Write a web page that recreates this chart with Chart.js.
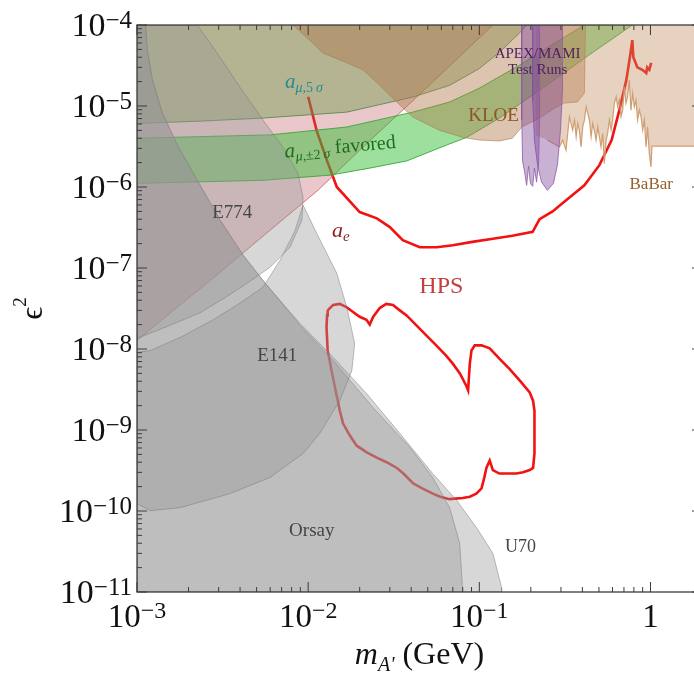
<!DOCTYPE html>
<html>
<head>
<meta charset="utf-8">
<script src="https://cdn.jsdelivr.net/npm/chart.js@4.4.1/dist/chart.umd.min.js"></script>
<style>
  html, body { margin: 0; padding: 0; overflow: hidden; background: #fff; }
  canvas { display: block; }
</style>
</head>
<body>
<canvas id="myChart" width="703" height="675"></canvas>
<script>
/* globals Chart:false */
// axis ranges and ticks
const xMin = 1e-3, xMax = 2
const yMin = 1e-11, yMax = 1e-4
const xTickValues = [1e-3, 1e-2, 1e-1, 1]
const xTickLabels = [['10', '\u22123'], ['10', '\u22122'], ['10', '\u22121'], ['1', '']]
const yTickValues = [1e-4, 1e-5, 1e-6, 1e-7, 1e-8, 1e-9, 1e-10, 1e-11]
const yTickLabels = [['10', '\u22124'], ['10', '\u22125'], ['10', '\u22126'], ['10', '\u22127'],
  ['10', '\u22128'], ['10', '\u22129'], ['10', '\u221210'], ['10', '\u221211']]

// [mass GeV, eps^2]
const hpsUpper = [[1.0e-2, 1.3e-5], [1.12e-2, 5.0e-6], [1.29e-2, 2.1e-6], [1.40e-2, 1.32e-6], [1.47e-2, 1.0e-6],
  [2.0e-2, 4.9e-7], [2.52e-2, 4.1e-7], [3.0e-2, 3.2e-7], [3.57e-2, 2.2e-7], [4.49e-2, 1.8e-7], [5.64e-2, 1.8e-7],
  [7.0e-2, 1.91e-7], [9.1e-2, 2.1e-7], [0.12, 2.3e-7], [0.156, 2.5e-7], [0.205, 2.8e-7], [0.225, 4.0e-7],
  [0.268, 5.0e-7], [0.306, 6.3e-7], [0.411, 1.05e-6], [0.503, 1.86e-6], [0.593, 3.8e-6], [0.658, 8.9e-6],
  [0.723, 2.1e-5], [0.762, 4.3e-5], [0.783, 6.5e-5], [0.794, 4.0e-5], [0.838, 3.0e-5], [0.896, 2.8e-5],
  [0.945, 2.55e-5], [0.957, 3.0e-5], [0.984, 2.8e-5], [1.01, 3.4e-5]]

const hpsLower = [[1.30e-2, 3.0e-8], [1.40e-2, 3.5e-8], [1.53e-2, 3.6e-8], [1.67e-2, 3.3e-8], [1.83e-2, 2.86e-8],
  [2.00e-2, 2.5e-8], [2.19e-2, 2.3e-8], [2.29e-2, 2.0e-8], [2.40e-2, 2.5e-8], [2.62e-2, 3.2e-8], [2.86e-2, 3.6e-8],
  [3.13e-2, 3.5e-8], [3.43e-2, 3.0e-8], [3.76e-2, 2.6e-8], [4.29e-2, 1.96e-8], [4.90e-2, 1.47e-8], [5.60e-2, 1.11e-8],
  [6.40e-2, 8.3e-9], [7.00e-2, 6.6e-9], [7.70e-2, 5.0e-9], [8.40e-2, 3.5e-9], [8.60e-2, 3.1e-9], [8.80e-2, 6.6e-9],
  [9.00e-2, 9.6e-9], [9.40e-2, 1.11e-8], [0.103, 1.11e-8], [0.115, 1.02e-8], [0.131, 7.6e-9], [0.150, 5.7e-9],
  [0.172, 4.1e-9], [0.197, 2.9e-9], [0.206, 2.3e-9], [0.210, 1.74e-9], [0.210, 5.1e-10], [0.206, 3.4e-10],
  [0.197, 3.2e-10], [0.180, 3.0e-10], [0.165, 2.9e-10], [0.131, 2.9e-10], [0.120, 3.2e-10], [0.115, 4.2e-10],
  [0.110, 3.4e-10], [0.107, 2.6e-10], [0.103, 1.9e-10], [9.6e-2, 1.64e-10], [8.8e-2, 1.5e-10], [8.0e-2, 1.45e-10],
  [6.7e-2, 1.4e-10], [5.9e-2, 1.5e-10], [5.35e-2, 1.64e-10], [4.67e-2, 1.89e-10], [4.1e-2, 2.2e-10], [3.6e-2, 2.9e-10],
  [3.3e-2, 3.4e-10], [2.87e-2, 4.0e-10], [2.5e-2, 4.6e-10], [2.2e-2, 5.3e-10], [1.92e-2, 6.4e-10], [1.75e-2, 8.6e-10],
  [1.60e-2, 1.2e-9], [1.53e-2, 1.74e-9], [1.46e-2, 2.8e-9], [1.37e-2, 5.4e-9], [1.30e-2, 9.6e-9], [1.28e-2, 1.85e-8],
  [1.29e-2, 2.6e-8]]

const aeLimit = [[1e-3, 1.28e-8], [1.86e-3, 3.77e-8], [2.68e-3, 7.0e-8], [5.6e-3, 2.6e-7], [1.14e-2, 9.1e-7],
  [2.0e-2, 2.85e-6], [4.49e-2, 1.4e-5], [0.12, 1e-4]]

const amu5sigma = [[1e-3, 6.1e-6], [2.34e-3, 6.5e-6], [5.45e-3, 7.1e-6], [1.68e-2, 8.4e-6], [4.09e-2, 1.29e-5],
  [6.71e-2, 1.8e-5], [0.1, 2.9e-5], [0.131, 4.6e-5], [0.172, 8.0e-5], [0.189, 1e-4]]
const amuFavUpper = [[1e-3, 4.0e-6], [5.99e-3, 4.4e-6], [1.68e-2, 5.5e-6], [4.09e-2, 8.4e-6], [6.71e-2, 1.12e-5],
  [0.1, 1.66e-5], [0.172, 3.2e-5], [0.294, 6.5e-5], [0.411, 1e-4]]
const amuFavLower = [[1e-3, 1.11e-6], [5.45e-3, 1.21e-6], [1.34e-2, 1.40e-6], [2.29e-2, 1.71e-6], [3.77e-2, 2.1e-6],
  [6.45e-2, 3.3e-6], [8.44e-2, 4.1e-6], [0.131, 7.1e-6], [0.247, 1.8e-5], [0.44, 4.3e-5], [0.783, 1e-4]]

const e774 = [[1e-3, 1e-4], [2.25e-3, 1e-4], [2.94e-3, 4.5e-5], [4.0e-3, 1.7e-5], [5.45e-3, 6.7e-6], [7.13e-3, 3.1e-6],
  [8.72e-3, 1.48e-6], [9.33e-3, 7.5e-7], [9.2e-3, 3.9e-7], [7.83e-3, 1.8e-7], [5.99e-3, 1.02e-7], [4.4e-3, 6.5e-8],
  [3.27e-3, 4.3e-8], [2.34e-3, 2.8e-8], [1.56e-3, 1.96e-8], [1e-3, 1.35e-8]]
const e141 = [[9.33e-3, 6.0e-7], [1.12e-2, 2.7e-7], [1.47e-2, 8.6e-8], [1.68e-2, 3.3e-8], [1.87e-2, 1.17e-8],
  [1.80e-2, 5.4e-9], [1.53e-2, 2.3e-9], [1.17e-2, 9.1e-10], [9.33e-3, 5.1e-10], [5.99e-3, 2.6e-10], [3.5e-3, 1.64e-10],
  [1.79e-3, 1.1e-10], [1.2e-3, 1.01e-10], [1e-3, 1.23e-10], [1e-3, 9.1e-9], [1.2e-3, 9.6e-9], [1.79e-3, 1.39e-8],
  [2.79e-3, 2.3e-8], [4.0e-3, 3.7e-8], [5.45e-3, 5.8e-8], [6.85e-3, 1.25e-7], [8.38e-3, 2.9e-7]]
const orsay = [[1.12e-3, 1e-4], [1.15e-3, 4.9e-5], [1.23e-3, 2.1e-5], [1.40e-3, 8.4e-6], [1.72e-3, 3.3e-6],
  [2.25e-3, 1.21e-6], [3.06e-3, 3.9e-7], [4.17e-3, 1.44e-7], [5.45e-3, 7.0e-8], [8.96e-3, 1.96e-8], [1.40e-2, 7.2e-9],
  [2.39e-2, 1.9e-9], [3.93e-2, 6.1e-10], [5.34e-2, 2.6e-10], [6.71e-2, 1.1e-10], [7.68e-2, 4.0e-11], [8.0e-2, 1e-11],
  [1e-3, 1e-11], [1e-3, 1e-4]]
const u70 = [[1.12e-3, 1e-4], [1.15e-3, 4.9e-5], [1.23e-3, 2.1e-5], [1.40e-3, 8.4e-6], [1.72e-3, 3.3e-6],
  [2.25e-3, 1.21e-6], [3.06e-3, 3.9e-7], [4.17e-3, 1.44e-7], [5.45e-3, 7.0e-8], [8.96e-3, 2.07e-8], [1.40e-2, 7.9e-9],
  [2.20e-2, 2.8e-9], [3.43e-2, 9.1e-10], [5.34e-2, 2.9e-10], [7.38e-2, 1.35e-10], [9.65e-2, 6.2e-11], [0.120, 3.0e-11],
  [0.135, 1.13e-11], [0.135, 1e-11], [1e-3, 1e-11], [1e-3, 1e-4]]

const kloe = [[8.15e-3, 1e-4], [1.02e-2, 6.5e-5], [1.22e-2, 4.5e-5], [1.64e-2, 3.5e-5], [2.09e-2, 2.8e-5],
  [2.62e-2, 1.8e-5], [3.21e-2, 1.18e-5], [4.09e-2, 7.3e-6], [5.87e-2, 5.0e-6], [8.0e-2, 4.1e-6], [0.1, 3.8e-6],
  [0.131, 3.7e-6], [0.156, 4.0e-6], [0.177, 5.5e-6], [0.225, 7.1e-6], [0.275, 9.4e-6], [0.314, 1.09e-5],
  [0.374, 1.12e-5], [0.411, 1.44e-5], [0.417, 1e-4]]

const babar = [[0.213, 1e-4], [0.213, 4.4e-6], [0.25, 3.8e-6], [0.294, 3.13e-6], [0.307, 3.79e-6], [0.321, 2.85e-6],
  [0.336, 7.36e-6], [0.351, 5.04e-6], [0.360, 6.7e-6], [0.368, 4.16e-6], [0.376, 6.1e-6], [0.384, 5.04e-6],
  [0.393, 3.13e-6], [0.402, 5.53e-6], [0.411, 6.7e-6], [0.421, 9.8e-6], [0.430, 8.1e-6], [0.440, 6.7e-6],
  [0.450, 4.16e-6], [0.460, 6.1e-6], [0.470, 5.04e-6], [0.481, 3.79e-6], [0.492, 5.53e-6], [0.503, 4.16e-6],
  [0.514, 3.13e-6], [0.526, 4.58e-6], [0.538, 1.95e-6], [0.551, 3.79e-6], [0.562, 4.58e-6], [0.575, 6.7e-6],
  [0.589, 5.04e-6], [0.601, 6.7e-6], [0.615, 1.08e-5], [0.630, 1.30e-5], [0.643, 9.8e-6], [0.658, 1.18e-5],
  [0.673, 7.36e-6], [0.688, 8.9e-6], [0.703, 1.73e-5], [0.719, 1.08e-5], [0.735, 1.30e-5], [0.752, 2.09e-5],
  [0.769, 8.9e-6], [0.787, 1.43e-5], [0.805, 9.8e-6], [0.823, 1.18e-5], [0.841, 6.7e-6], [0.861, 8.9e-6],
  [0.881, 7.36e-6], [0.900, 5.04e-6], [0.921, 6.7e-6], [0.942, 3.13e-6], [0.962, 5.53e-6], [0.984, 2.6e-6],
  [1.007, 1.77e-6], [1.02, 3.19e-6], [2.0, 3.19e-6], [2.0, 1e-4]]

const apex = [[0.177, 1e-4], [0.177, 6.7e-6], [0.179, 2.1e-6], [0.184, 1.52e-6], [0.189, 1.05e-6], [0.194, 1.81e-6],
  [0.199, 1.11e-6], [0.205, 1.02e-6], [0.210, 1.71e-6], [0.216, 1.15e-6], [0.222, 1.97e-6], [0.225, 6.7e-6],
  [0.225, 1e-4]]
const mami = [[0.205, 1e-4], [0.205, 1.18e-5], [0.210, 3.8e-6], [0.219, 1.86e-6], [0.231, 1.15e-6], [0.250, 9.1e-7],
  [0.271, 1.11e-6], [0.286, 1.86e-6], [0.298, 5.0e-6], [0.306, 1.57e-5], [0.306, 1e-4]]

const SERIF = '"Liberation Serif", "Times New Roman", "DejaVu Serif", serif'
const toXY = arr => arr.map(p => ({ x: p[0], y: p[1] }))
const closed = arr => { const p = toXY(arr); p.push(p[0]); return p }

const shape = (label, data, fillColor, lineColor, order, width) => ({
  label, data, fill: 'shape', backgroundColor: fillColor, borderColor: lineColor,
  borderWidth: width === undefined ? 1 : width, pointRadius: 0, order
})
const curve = (label, data, color, width, order, fill, fillColor) => ({
  label, data, fill: fill || false, borderColor: color, backgroundColor: fillColor || 'transparent',
  borderWidth: width, pointRadius: 0, order
})

const gray = 'rgba(150,150,150,0.38)'
const grayLine = 'rgba(115,115,115,0.45)'

// higher order = drawn further back
const datasets = [
  shape('APEX', closed(apex), 'rgba(125,70,150,0.42)', 'rgba(140,90,165,0.8)', 5),
  shape('MAMI', closed(mami), 'rgba(125,70,150,0.42)', 'rgba(140,90,165,0.8)', 6),
  shape('E774', closed(e774), gray, grayLine, 12),
  shape('E141', closed(e141), gray, grayLine, 13),
  shape('Orsay', closed(orsay), gray, grayLine, 14),
  shape('U70', closed(u70), gray, grayLine, 15),
  curve('BaBar edge', toXY(babar.slice(2, babar.length - 1)), 'rgba(205,155,110,0.95)', 1.2, 18.5),
  shape('BaBar', closed(babar), 'rgba(195,140,95,0.40)', 'transparent', 19, 0),
  shape('KLOE', closed(kloe), 'rgba(175,120,75,0.44)', 'rgba(170,120,80,0.6)', 20),
  shape('a_mu favored', closed(amuFavUpper.concat(amuFavLower.slice().reverse())),
    'rgba(50,190,50,0.48)', 'rgba(60,165,60,0.9)', 23),
  curve('a_mu 5 sigma', toXY(amu5sigma), 'rgba(90,140,80,0.9)', 1, 24, 'end', 'rgba(105,150,70,0.42)'),
  curve('a_e', toXY(aeLimit), 'rgba(210,95,95,0.85)', 1, 25, 'end', 'rgba(190,80,90,0.32)'),
  curve('HPS upper', toXY(hpsUpper), 'rgb(242,18,18)', 2.6, 30),
  curve('HPS lower', closed(hpsLower), 'rgb(242,18,18)', 2.6, 31)
]

// text annotations, anchored in data coordinates
const notes = [
  { text: 'E774', at: [3.6e-3, 4.9e-7], size: 19, color: 'rgb(70,70,70)' },
  { text: 'E141', at: [6.6e-3, 8.6e-9], size: 19, color: 'rgb(70,70,70)' },
  { text: 'Orsay', at: [1.05e-2, 5.9e-11], size: 19, color: 'rgb(70,70,70)' },
  { text: 'U70', at: [0.174, 3.7e-11], size: 18, color: 'rgb(70,70,70)' },
  { text: 'HPS', at: [6.0e-2, 6.1e-8], size: 24, color: 'rgb(195,62,62)' },
  { text: 'KLOE', at: [0.121, 7.7e-6], size: 19, color: 'rgb(140,85,35)' },
  { text: 'APEX/MAMI', at: [0.219, 4.5e-5], size: 15, color: 'rgb(80,30,95)' },
  { text: 'Test Runs', at: [0.219, 2.86e-5], size: 15, color: 'rgb(80,30,95)' },
  { text: 'BaBar', at: [1.01, 1.11e-6], size: 17, color: 'rgb(150,95,45)' }
]

function drawParts(ctx, parts, x, y, align) {
  // parts: [text, size, italic, dy]
  const fontOf = p => (p[2] ? 'italic ' : '') + p[1] + 'px ' + SERIF
  let w = 0
  for (const p of parts) { ctx.font = fontOf(p); w += ctx.measureText(p[0]).width }
  let cx = align === 'center' ? x - w / 2 : align === 'right' ? x - w : x
  ctx.textAlign = 'left'
  ctx.textBaseline = 'alphabetic'
  for (const p of parts) {
    ctx.font = fontOf(p)
    ctx.fillText(p[0], cx, y + p[3])
    cx += ctx.measureText(p[0]).width
  }
}

const framePlugin = {
  id: 'frameAndText',
  afterDraw(chart) {
    const { ctx, chartArea: a, scales: { x, y } } = chart
    ctx.save()
    ctx.strokeStyle = '#3c3c3c'
    ctx.lineWidth = 1.3
    ctx.strokeRect(a.left, a.top, a.right - a.left, a.bottom - a.top)

    const seg = (x1, y1, x2, y2) => { ctx.beginPath(); ctx.moveTo(x1, y1); ctx.lineTo(x2, y2); ctx.stroke() }
    ctx.lineWidth = 1
    for (let e = -3; e <= 0; e++) {
      for (let k = 1; k <= 9; k++) {
        const v = k * Math.pow(10, e)
        if (v > xMax) break
        const px = x.getPixelForValue(v)
        const len = k === 1 ? 10 : 5
        seg(px, a.bottom, px, a.bottom - len)
        seg(px, a.top, px, a.top + len)
      }
    }
    for (let e = -11; e <= -4; e++) {
      for (let k = 1; k <= 9; k++) {
        const v = k * Math.pow(10, e)
        if (v > yMax * 1.0001) break
        const py = y.getPixelForValue(v)
        const len = k === 1 ? 10 : 5
        seg(a.left, py, a.left + len, py)
        seg(a.right, py, a.right - len, py)
      }
    }

    // tick labels
    ctx.fillStyle = '#111'
    xTickValues.forEach((v, i) => {
      const [b, ex] = xTickLabels[i]
      drawParts(ctx, [[b, 33, false, 0], [ex, 24, false, -9]], x.getPixelForValue(v), a.bottom + 35, 'center')
    })
    yTickValues.forEach((v, i) => {
      const [b, ex] = yTickLabels[i]
      drawParts(ctx, [[b, 34, false, 0], [ex, 25, false, -8]], a.left - 5, y.getPixelForValue(v) + 11, 'right')
    })

    // axis titles
    drawParts(ctx, [['m', 32, true, 0], ["A'", 20, true, 7], [' (GeV)', 32, false, 0]],
      (a.left + a.right) / 2, a.bottom + 72, 'center')
    ctx.save()
    ctx.translate(42, (a.top + a.bottom) / 2)
    ctx.rotate(-Math.PI / 2)
    drawParts(ctx, [['\u03f5', 32, false, 0], ['2', 19, false, -16]], 0, 0, 'center')
    ctx.restore()

    // region labels
    for (const n of notes) {
      ctx.fillStyle = n.color
      drawParts(ctx, [[n.text, n.size, false, 0]], x.getPixelForValue(n.at[0]),
        y.getPixelForValue(n.at[1]) + n.size * 0.33, 'center')
    }
    ctx.fillStyle = 'rgb(40,140,140)'
    drawParts(ctx, [['a', 21, true, 0], ['\u03bc,', 14, true, 4], ['5', 14, false, 4], ['\u2009\u03c3', 14, true, 4]],
      x.getPixelForValue(7.33e-3), y.getPixelForValue(1.66e-5), 'left')

    ctx.fillStyle = 'rgb(30,110,30)'
    ctx.save()
    ctx.translate(x.getPixelForValue(7.33e-3), y.getPixelForValue(2.3e-6))
    ctx.rotate(-5 * Math.PI / 180)
    drawParts(ctx, [['a', 21, true, 0], ['\u03bc,\u00b1', 14, true, 4], ['2', 14, false, 4], ['\u2009\u03c3', 14, true, 4],
      [' favored', 20, false, 0]], 0, 0, 'left')
    ctx.restore()

    ctx.fillStyle = 'rgb(140,30,30)'
    drawParts(ctx, [['a', 22, true, 0], ['e', 15, true, 4]],
      x.getPixelForValue(1.38e-2), y.getPixelForValue(2.4e-7), 'left')
    ctx.restore()
  }
}

const myChart = new Chart(document.getElementById('myChart'), {
  type: 'line',
  data: { datasets },
  options: {
    responsive: false,
    animation: false,
    devicePixelRatio: 1,
    events: [],
    layout: { padding: { left: 137, top: 25, right: 1, bottom: 83 } },
    scales: {
      x: { type: 'logarithmic', min: xMin, max: xMax, display: false },
      y: { type: 'logarithmic', min: yMin, max: yMax, display: false }
    },
    elements: { line: { tension: 0 }, point: { radius: 0 } },
    plugins: { legend: { display: false }, tooltip: { enabled: false } }
  },
  plugins: [framePlugin]
})
</script>
</body>
</html>
